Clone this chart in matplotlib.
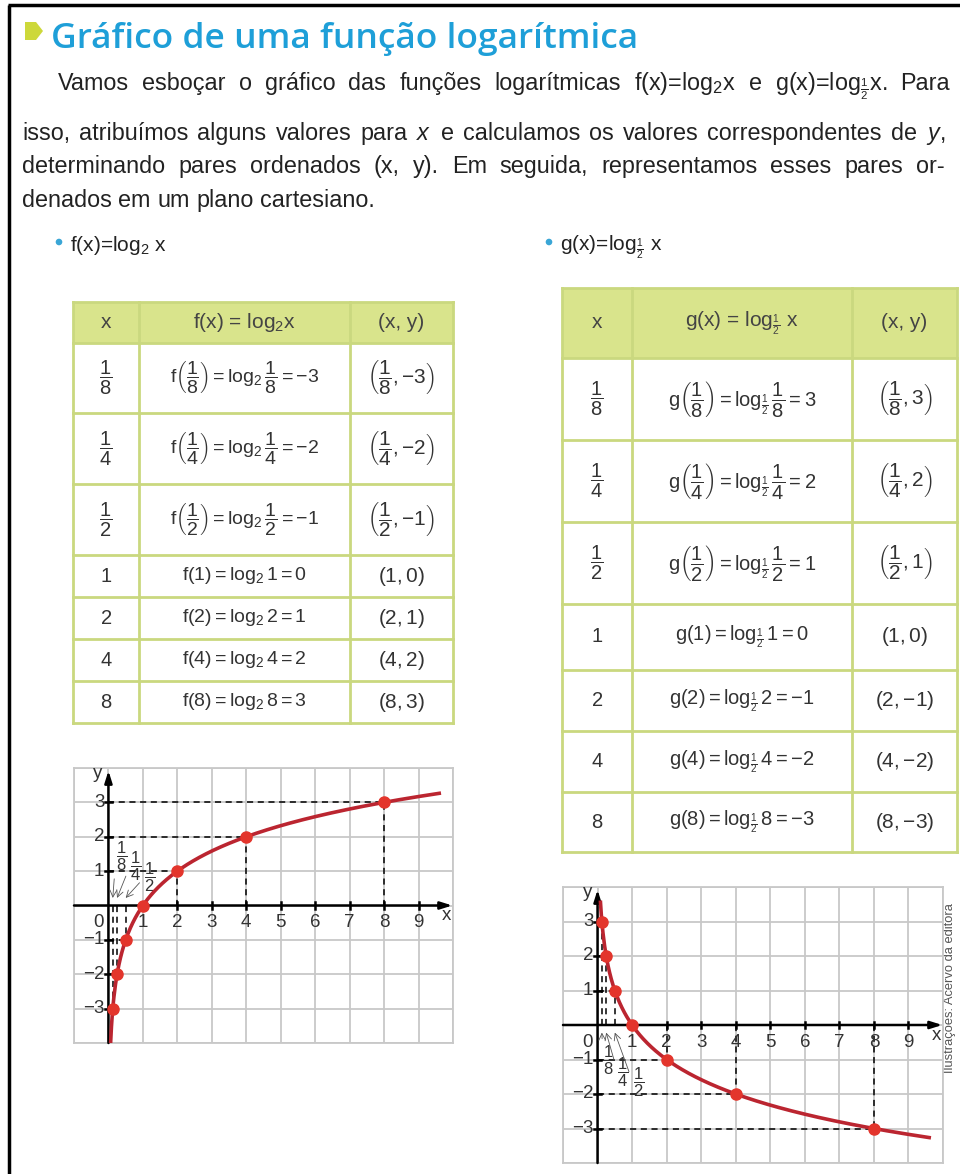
import numpy as np
import matplotlib
matplotlib.use('Agg')
import matplotlib.pyplot as plt
from matplotlib.patches import Rectangle, Polygon, Circle
from matplotlib import font_manager as fm

# fonts: Helvetica-like body, narrow if available
names = {f.name for f in fm.fontManager.ttflist}
SANS = 'Liberation Sans'
NARROW = 'Liberation Sans Narrow' if 'Liberation Sans Narrow' in names else SANS

plt.rcParams['font.family'] = [SANS, 'DejaVu Sans']
plt.rcParams['mathtext.fontset'] = 'custom'
plt.rcParams['mathtext.rm'] = SANS
plt.rcParams['mathtext.it'] = SANS + ':italic'
plt.rcParams['mathtext.bf'] = SANS + ':bold'
plt.rcParams['mathtext.default'] = 'regular'

# data
x_num = [1, 1, 1, 1, 2, 4, 8]
x_den = [8, 4, 2, 1, 1, 1, 1]
x_vals = [0.125, 0.25, 0.5, 1, 2, 4, 8]
f_vals = [-3, -2, -1, 0, 1, 2, 3]
g_vals = [3, 2, 1, 0, -1, -2, -3]

title = 'Gráfico de uma função logarítmica'
para_lines = [
    'Vamos esboçar o gráfico das funções logarítmicas f(x)=log$_2$x e g(x)=log$_{\\frac{1}{2}}$x. Para',
    'isso, atribuímos alguns valores para $\\mathit{x}$ e calculamos os valores correspondentes de $\\mathit{y}$,',
    'determinando pares ordenados (x, y). Em seguida, representamos esses pares or-',
    'denados em um plano cartesiano.',
]
credit = 'Ilustrações: Acervo da editora'

TXT = '#222222'
GREEN_FILL = '#d9e48c'
GREEN_LINE = '#cad87f'
BLUE = '#1e9fd8'
RED = '#e3352c'
CURVE = '#bb2530'
GRID = '#c8c8c8'

W, H = 960, 1174
fig = plt.figure(figsize=(W / 100, H / 100), dpi=100)
page = fig.add_axes([0, 0, 1, 1])
page.set_xlim(0, W)
page.set_ylim(H, 0)
page.axis('off')
renderer = fig.canvas.get_renderer()

# page frame
page.plot([9, 9], [5, H], color='black', lw=2.5, solid_capstyle='butt')
page.plot([8, W], [5, 5], color='black', lw=2.5, solid_capstyle='butt')

# title
page.add_patch(Polygon([(25, 22), (36, 22), (43, 31), (36, 40), (25, 40)], closed=True,
                       color='#cdd83a', lw=0))
page.text(51, 48, title, fontsize=25.5, fontweight='semibold', color=BLUE,
          family=['Open Sans', 'DejaVu Sans'], va='baseline', ha='left')


def justify(line, x0, x1, y, last=False, **kw):
    words = line.split(' ')
    texts = [page.text(0, y, w, va='baseline', ha='left', **kw) for w in words]
    widths = [t.get_window_extent(renderer).width for t in texts]
    if last:
        a = page.text(0, y, 'a a', **kw)
        b = page.text(0, y, 'aa', **kw)
        gap = a.get_window_extent(renderer).width - b.get_window_extent(renderer).width
        a.remove()
        b.remove()
    else:
        gap = (x1 - x0 - sum(widths)) / (len(words) - 1)
    x = x0
    for t, w in zip(texts, widths):
        t.set_x(x)
        x += w + gap


body_kw = dict(fontsize=16.8, color=TXT, family=[NARROW, 'DejaVu Sans'])
justify(para_lines[0], 58, 950, 90, **body_kw)
justify(para_lines[1], 22, 945, 140, **body_kw)
justify(para_lines[2], 22, 945, 173, **body_kw)
justify(para_lines[3], 22, 945, 207, last=True, **body_kw)

# bullets
bul_kw = dict(fontsize=15, color=TXT, family=[NARROW, 'DejaVu Sans'])
page.add_patch(Circle((59, 242), 3.3, color='#3aa6d6', lw=0))
page.text(70, 251, 'f(x)=log$_2$ x', va='baseline', **bul_kw)
page.add_patch(Circle((549, 242), 3.3, color='#3aa6d6', lw=0))
page.text(560, 251, 'g(x)=log$_{\\frac{1}{2}}$ x', va='baseline', **bul_kw)


def xtex(n, d):
    return r'\dfrac{%d}{%d}' % (n, d) if d != 1 else '%d' % n


def vtex(v):
    return '{-}%d' % abs(v) if v < 0 else '%d' % v


def draw_table(xe, ye, header, fname, base, vals, fsize):
    page.add_patch(Rectangle((xe[0], ye[0]), xe[-1] - xe[0], ye[1] - ye[0],
                             color=GREEN_FILL, lw=0))
    for x in xe:
        page.plot([x, x], [ye[0], ye[-1]], color=GREEN_LINE, lw=2)
    for y in ye:
        page.plot([xe[0], xe[-1]], [y, y], color=GREEN_LINE, lw=2)
    cx = [(a + b) / 2 for a, b in zip(xe[:-1], xe[1:])]
    cy = [(a + b) / 2 for a, b in zip(ye[:-1], ye[1:])]
    for c, h in zip(cx, header):
        page.text(c, cy[0], h, ha='center', va='center', fontsize=15, color='#444444')
    for i, (n, d, v) in enumerate(zip(x_num, x_den, vals)):
        xt = xtex(n, d)
        vs = '-%d' % abs(v) if v < 0 else '%d' % v
        if d != 1:
            fcell = r'$%s\left(%s\right)=\log_{%s}%s=%s$' % (fname, xt, base, xt, vs)
            pcell = r'$\left(%s,%s\right)$' % (xt, vtex(v))
        else:
            fcell = r'$%s(%s)=\log_{%s}%s=%s$' % (fname, xt, base, xt, vs)
            pcell = r'$(%s,%s)$' % (xt, vtex(v))
        y = cy[i + 1]
        page.text(cx[0], y, '$%s$' % xt, ha='center', va='center', fontsize=14.5, color='#333333')
        page.text(cx[1], y, fcell, ha='center', va='center', fontsize=fsize, color='#333333')
        page.text(cx[2], y, pcell, ha='center', va='center', fontsize=15, color='#333333')


draw_table([73, 139, 350, 453], [302, 343, 413, 484, 555, 597, 639, 681, 723],
           ['x', 'f(x) = log$_2$x', '(x, y)'], 'f', '2', f_vals, 14)
draw_table([562, 632, 852, 957], [288, 358, 440, 522, 604, 670, 731, 792, 852],
           ['x', 'g(x) = log$_{\\frac{1}{2}}$ x', '(x, y)'], 'g', r'\frac{1}{2}', g_vals, 14.5)

# credit
page.text(950, 988, credit, rotation=90, fontsize=9.3, color='#555555',
          ha='center', va='center')


def px_axes(x0, y0, x1, y1):
    return fig.add_axes([x0 / W, 1 - y1 / H, (x1 - x0) / W, (y1 - y0) / H])


def draw_graph(ax, yv, cx, cy, lab_pos, lab_tip):
    ax.set_xlim(-1, 10)
    ax.set_ylim(-4, 4)
    ax.set_xticks(range(-1, 11))
    ax.set_yticks(range(-4, 5))
    ax.grid(True, color=GRID, lw=1.3)
    ax.set_axisbelow(True)
    ax.tick_params(length=0, labelbottom=False, labelleft=False)
    for s in ax.spines.values():
        s.set_color(GRID)
        s.set_linewidth(1.3)
    arrow = dict(arrowstyle='-|>,head_length=0.7,head_width=0.22', color='black',
                 lw=1.8, shrinkA=0, shrinkB=0)
    ax.annotate('', xy=(9.98, 0), xytext=(-1, 0), arrowprops=arrow)
    ax.annotate('', xy=(0, 3.92), xytext=(0, -4), arrowprops=arrow)
    for i in range(1, 10):
        ax.plot([i, i], [-0.1, 0.1], color='black', lw=1.8)
        ax.text(i, -0.5, str(i), ha='center', va='center', fontsize=13.5, color='#333333')
    for j in [-3, -2, -1, 1, 2, 3]:
        ax.plot([-0.1, 0.1], [j, j], color='black', lw=1.8)
        ax.text(-0.12, j, str(j).replace('-', '\u2212'), ha='right', va='center',
                fontsize=13.5, color='#333333')
    ax.text(-0.3, -0.5, '0', ha='center', va='center', fontsize=13.5, color='#333333')
    ax.text(9.82, -0.3, 'x', ha='center', va='center', fontsize=13.5, color='#333333')
    ax.text(-0.3, 3.85, 'y', ha='center', va='center', fontsize=13.5, color='#333333')
    for xv, v in zip(x_vals, yv):
        if xv == 1:
            continue
        ax.plot([xv, xv], [0, v], color='black', lw=1.1, ls=(0, (4, 3)))
        ax.plot([0, xv], [v, v], color='black', lw=1.1, ls=(0, (4, 3)))
    ax.plot(cx, cy, color=CURVE, lw=2.6, zorder=4)
    ax.plot(x_vals, yv, 'o', color=RED, ms=8, zorder=5)
    for k, (pos, xv) in enumerate(zip(lab_pos, x_vals[:3])):
        ax.annotate('$%s$' % xtex(x_num[k], x_den[k]), xy=(xv, lab_tip), xytext=pos,
                    ha='center', va='center', fontsize=12, color='#333333',
                    arrowprops=dict(arrowstyle='->', lw=0.6, color='#555555',
                                    shrinkA=2, shrinkB=0, relpos=(0.0, 0.5)))


ax_f = px_axes(74, 768, 453, 1043)
xf = np.linspace(0.0625, 9.6, 400)
draw_graph(ax_f, f_vals, xf, np.log2(xf),
           [(0.38, 1.42), (0.78, 1.13), (1.2, 0.81)], 0.22)

ax_g = px_axes(563, 887, 943, 1163)
xg = np.linspace(0.085, 9.6, 400)
draw_graph(ax_g, g_vals, xg, np.log(xg) / np.log(0.5),
           [(0.32, -1.04), (0.74, -1.36), (1.18, -1.65)], -0.22)

fig.savefig('out.png', dpi=100)
